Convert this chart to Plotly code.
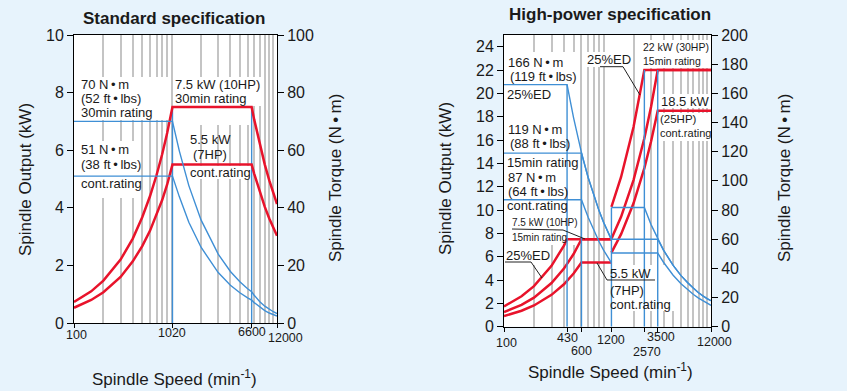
import math
import plotly.graph_objects as go

W, H = 847, 391

# ---------------- data ----------------
# Standard specification
STD_SPEED = [100, 150, 200, 300, 400, 500, 600, 700, 800, 900, 1020, 1200, 1500, 2000,
             3000, 4000, 5000, 6000, 6600, 7000, 8000, 9000, 10000, 11000, 12000]
STD_P_30MIN = [0.73, 1.10, 1.47, 2.20, 2.93, 3.67, 4.40, 5.13, 5.86, 6.60, 7.5, 7.5, 7.5, 7.5,
               7.5, 7.5, 7.5, 7.5, 7.5, 7.07, 6.19, 5.50, 4.95, 4.50, 4.13]
STD_P_CONT = [0.53, 0.80, 1.07, 1.60, 2.14, 2.67, 3.20, 3.74, 4.27, 4.81, 5.5, 5.5, 5.5, 5.5,
              5.5, 5.5, 5.5, 5.5, 5.5, 5.19, 4.54, 4.03, 3.63, 3.30, 3.03]
STD_T_30MIN = [70, 70, 70, 70, 70, 70, 70, 70, 70, 70, 70, 59.7, 47.7, 35.8,
               23.9, 17.9, 14.3, 11.9, 10.85, 9.65, 7.39, 5.84, 4.73, 3.91, 3.28]
STD_T_CONT = [51, 51, 51, 51, 51, 51, 51, 51, 51, 51, 51, 43.8, 35.0, 26.3,
              17.5, 13.1, 10.5, 8.75, 7.96, 7.08, 5.42, 4.28, 3.47, 2.87, 2.41]
STD_CORNER_SPEED = [1020, 6600]
STD_CORNER_TOP_KW = [7.5, 7.5]
STD_XTICKS = [100, 1020, 6600, 12000]

# High-power specification: low-speed winding
HP_LOW_SPEED = [100, 150, 200, 300, 400, 430, 500, 600, 700, 800, 900, 1000, 1200]
HP_LOW_P_ED = [1.74, 2.61, 3.48, 5.22, 6.95, 7.5, 7.5, 7.5, 7.5, 7.5, 7.5, 7.5, 7.5]
HP_LOW_P_15MIN = [1.25, 1.87, 2.49, 3.74, 4.98, 5.36, 6.23, 7.5, 7.5, 7.5, 7.5, 7.5, 7.5]
HP_LOW_P_CONT = [0.91, 1.37, 1.82, 2.73, 3.64, 3.92, 4.56, 5.5, 5.5, 5.5, 5.5, 5.5, 5.5]
HP_LOW_T_ED = [166, 166, 166, 166, 166, 166, 143.2, 119.4, 102.3, 89.5, 79.6, 71.6, 59.7]
HP_LOW_T_15MIN = [119, 119, 119, 119, 119, 119, 119, 119, 102.3, 89.5, 79.6, 71.6, 59.7]
HP_LOW_T_CONT = [87, 87, 87, 87, 87, 87, 87, 87, 75.0, 65.7, 58.4, 52.5, 43.8]

# High-power specification: high-speed winding
HP_HIGH_SPEED = [1200, 1500, 2000, 2570, 3000, 3500, 4000, 5000, 6000, 7000, 8000, 9000,
                 10000, 11000, 12000]
HP_HIGH_P_ED = [10.27, 12.83, 17.11, 22, 22, 22, 22, 22, 22, 22, 22, 22, 22, 22, 22]
HP_HIGH_P_15MIN = [7.54, 9.42, 12.57, 16.15, 18.85, 22, 22, 22, 22, 22, 22, 22, 22, 22, 22]
HP_HIGH_P_CONT = [6.35, 7.93, 10.58, 13.59, 15.87, 18.5, 18.5, 18.5, 18.5, 18.5, 18.5, 18.5,
                  18.5, 18.5, 18.5]
HP_HIGH_T_ED = [81.7, 81.7, 81.7, 81.7, 70.0, 60.0, 52.5, 42.0, 35.0, 30.0, 26.3, 23.3,
                21.0, 19.1, 17.8]
HP_HIGH_T_15MIN = [60, 60, 60, 60, 60, 60, 52.5, 42.0, 35.0, 30.0, 26.3, 23.3,
                   21.0, 19.1, 17.8]
HP_HIGH_T_CONT = [50.5, 50.5, 50.5, 50.5, 50.5, 50.5, 44.2, 35.3, 29.4, 25.2, 22.1, 19.6,
                  17.7, 16.1, 14.6]
HP_CORNER_SPEED = [430, 600, 1200, 2570, 3500]
HP_CORNER_TOP_NM = [166, 119, 81.7, 176, 176]
HP_XTICKS = [100, 430, 600, 1200, 2570, 3500, 12000]

GRID_SPEEDS = [200, 300, 400, 500, 600, 700, 800, 900, 1000,
               2000, 3000, 4000, 5000, 6000, 7000, 8000, 9000, 10000, 11000]
STD_OUT_TICKS = [0, 2, 4, 6, 8, 10]
STD_TRQ_TICKS = [0, 20, 40, 60, 80, 100]
HP_OUT_TICKS = [0, 2, 4, 6, 8, 10, 12, 14, 16, 18, 20, 22, 24]
HP_TRQ_TICKS = [0, 20, 40, 60, 80, 100, 120, 140, 160, 180, 200]

# ---------------- style ----------------
RED = "#E8132B"
BLUE = "#3F8FD5"
GRID = "#C4C4C4"
BG = "#E7F3FC"
FONT = "Liberation Sans, Arial, sans-serif"
TXT = "#1a1a1a"
DOT = "\u2009\u2022\u2009"

L_X0, L_X1, L_YT, L_YB = 74, 277, 35, 323
R_X0, R_X1, R_YT, R_YB = 504, 711, 35, 326.7
LOGMAX = math.log10(12000)


def px(x):
    return x / W


def py(y):
    return 1 - y / H


fig = go.Figure()


def line(xs, ys, xa, ya, color, width):
    fig.add_trace(go.Scatter(x=xs, y=ys, xaxis=xa, yaxis=ya, mode="lines",
                             line=dict(color=color, width=width), hoverinfo="skip"))


# --- standard spec traces ---
for s, top in zip(STD_CORNER_SPEED, STD_CORNER_TOP_KW):
    line([s, s], [0, top], "x", "y", BLUE, 1.4)
line(STD_SPEED, STD_T_30MIN, "x", "y2", BLUE, 1.4)
line(STD_SPEED, STD_T_CONT, "x", "y2", BLUE, 1.4)
line(STD_SPEED, STD_P_30MIN, "x", "y", RED, 2.5)
line(STD_SPEED, STD_P_CONT, "x", "y", RED, 2.5)

# --- high-power spec traces ---
for s, top in zip(HP_CORNER_SPEED, HP_CORNER_TOP_NM):
    line([s, s], [0, top], "x2", "y4", BLUE, 1.4)
for t in (HP_LOW_T_ED, HP_LOW_T_15MIN, HP_LOW_T_CONT):
    line(HP_LOW_SPEED, t, "x2", "y4", BLUE, 1.4)
for t in (HP_HIGH_T_ED, HP_HIGH_T_15MIN, HP_HIGH_T_CONT):
    line(HP_HIGH_SPEED, t, "x2", "y4", BLUE, 1.4)
for p in (HP_LOW_P_ED, HP_LOW_P_15MIN, HP_LOW_P_CONT):
    line(HP_LOW_SPEED, p, "x2", "y3", RED, 2.5)
for p in (HP_HIGH_P_ED, HP_HIGH_P_15MIN, HP_HIGH_P_CONT):
    line(HP_HIGH_SPEED, p, "x2", "y3", RED, 2.5)

# ---------------- axes ----------------
xr = [2, LOGMAX]


def xaxis(dom, anchor, ticks):
    return dict(domain=dom, anchor=anchor, type="log", range=xr, showline=True,
                linecolor="black", linewidth=1, mirror=True, ticks="outside",
                tickvals=ticks, ticklen=4, tickcolor="black", showticklabels=False,
                showgrid=False, zeroline=False, automargin=False,
                minor=dict(tickmode="array", tickvals=GRID_SPEEDS, showgrid=True,
                           gridcolor=GRID, gridwidth=2, ticks=""))


def yaxis(dom, anchor, rng, ticks, side="left", overlaying=None):
    d = dict(anchor=anchor, range=rng, tickvals=ticks, side=side, showline=True,
             linecolor="black", linewidth=1, ticks="outside", ticklen=6,
             tickcolor="black", showgrid=False, zeroline=False, automargin=False,
             tickfont=dict(family=FONT, size=16, color=TXT))
    if overlaying:
        d["overlaying"] = overlaying
    else:
        d["domain"] = dom
    return d


L_XD = [px(L_X0), px(L_X1)]
L_YD = [py(L_YB), py(L_YT)]
R_XD = [px(R_X0), px(R_X1)]
R_YD = [py(R_YB), py(R_YT)]

fig.update_layout(
    width=W, height=H, autosize=False,
    margin=dict(l=0, r=0, t=0, b=0, pad=0, autoexpand=False),
    paper_bgcolor=BG, plot_bgcolor="white", showlegend=False,
    xaxis=xaxis(L_XD, "y", STD_XTICKS),
    yaxis=yaxis(L_YD, "x", [0, 10], STD_OUT_TICKS),
    yaxis2=yaxis(None, "x", [0, 100], STD_TRQ_TICKS, side="right", overlaying="y"),
    xaxis2=xaxis(R_XD, "y3", HP_XTICKS),
    yaxis3=yaxis(R_YD, "x2", [0, 25], HP_OUT_TICKS),
    yaxis4=yaxis(None, "x2", [0, 200], HP_TRQ_TICKS, side="right", overlaying="y3"),
)

# ---------------- leader lines ----------------
LEADERS = [[(600, 66.7), (623, 66.7), (640, 95)],
           [(512, 229), (563, 230), (585, 239)],
           [(505, 262), (531, 262), (542, 278)],
           [(597, 263), (607, 280), (655, 280)]]
for pts in LEADERS:
    path = "M " + " L ".join(f"{px(a):.5f},{py(b):.5f}" for a, b in pts)
    fig.add_shape(type="path", xref="paper", yref="paper", path=path,
                  line=dict(color="#222", width=1), layer="above")

# ---------------- grid breaks behind labels (above grid, below traces) ----------------
L_BOXES = [(76, 170, 77, 120), (76, 141, 141, 198), (173, 263, 77, 106),
           (173, 250, 108, 125), (186, 249, 166, 179)]
R_BOXES = [(505, 577, 52, 245), (505, 548, 245, 265), (585, 629, 52, 67),
           (641, 709, 40, 68), (659, 709, 94, 108), (659, 709, 113, 141),
           (608, 676, 265, 311)]


def add_boxes(boxes, xref, yref, X0, X1, YT, YB, ymax):
    def fx(p):
        return 10 ** (2 + (p - X0) / (X1 - X0) * (LOGMAX - 2))

    def fy(p):
        return (YB - p) / (YB - YT) * ymax

    for (x0, x1, y0, y1) in boxes:
        fig.add_shape(type="rect", xref=xref, yref=yref, layer="between",
                      x0=fx(x0), x1=fx(x1), y0=fy(y1), y1=fy(y0),
                      fillcolor="white", line=dict(width=0))


add_boxes(L_BOXES, "x", "y", L_X0, L_X1, L_YT, L_YB, 10)
add_boxes(R_BOXES, "x2", "y3", R_X0, R_X1, R_YT, R_YB, 25)


# ---------------- text ----------------
def text(t, x, y, size=13, anchor="left", angle=0, bold=False):
    if bold:
        t = f"<b>{t}</b>"
    fig.add_annotation(text=t, x=px(x), y=py(y), xref="paper", yref="paper",
                       xanchor=anchor, yanchor="middle", showarrow=False,
                       textangle=angle, borderpad=0,
                       font=dict(family=FONT, size=size, color=TXT))


LABELS = [
    (f"70 N{DOT}m", 80, 85), (f"(52 ft{DOT}lbs)", 80, 98), ("30min rating", 80, 112),
    (f"51 N{DOT}m", 80, 150), (f"(38 ft{DOT}lbs)", 80, 164), ("cont.rating", 80, 183.5),
    ("7.5 kW (10HP)", 174, 85), ("30min rating", 174, 98.5),
    ("5.5 kW", 189, 140), ("(7HP)", 192, 154), ("cont.rating", 189, 172),
    (f"166 N{DOT}m", 507, 62), (f"(119 ft{DOT}lbs)", 509, 77), ("25%ED", 506, 95),
    (f"119 N{DOT}m", 507, 129), (f"(88 ft{DOT}lbs)", 509, 143), ("15min rating", 506, 162),
    (f"87 N{DOT}m", 507, 177), (f"(64 ft{DOT}lbs)", 507, 191), ("cont.rating", 506, 205),
    ("25%ED", 505, 255), ("25%ED", 586, 60),
    ("18.5 kW", 660, 101),
    ("5.5 kW", 609, 273), ("(7HP)", 609, 290), ("cont.rating", 609, 304),
]
for t, x, y in LABELS:
    text(t, x, y, size=13)

SMALL_LABELS = [
    ("7.5 kW (10HP)", 511, 222, 10), ("15min rating", 511, 237, 10),
    ("22 kW (30HP)", 642, 47, 10.5), ("15min rating", 642, 61, 10.5),
    ("(25HP)", 659, 119, 11.5), ("cont.rating", 659, 133, 11),
]
for t, x, y, s in SMALL_LABELS:
    text(t, x, y, size=s)

# titles
text("Standard specification", 174, 19, size=17, anchor="center", bold=True)
text("High-power specification", 610, 15, size=17, anchor="center", bold=True)

# axis titles
text("Spindle Output (kW)", 26, 180, size=17, anchor="center", angle=-90)
text(f"Spindle Torque (N{DOT}m)", 335, 178, size=17, anchor="center", angle=-90)
text("Spindle Output (kW)", 445, 178, size=17, anchor="center", angle=-90)
text(f"Spindle Torque (N{DOT}m)", 784, 178, size=17, anchor="center", angle=-90)
text("Spindle Speed (min<sup>-1</sup>)", 174, 378, size=17, anchor="center")
text("Spindle Speed (min<sup>-1</sup>)", 610, 371, size=17, anchor="center")

# x tick labels (staggered as in the reference)
STD_XLABEL_Y = [335, 333, 332, 338]
STD_XLABEL_SHIFT = [2, 0, 0, 8]
HP_XLABEL_Y = [343, 338, 351, 340, 352, 337, 342]
HP_XLABEL_SHIFT = [2, 0, 0, 0, 3, 3, 3]
for v, y, sh in zip(STD_XTICKS, STD_XLABEL_Y, STD_XLABEL_SHIFT):
    fig.add_annotation(text=str(v), x=math.log10(v), xref="x", y=py(y), yref="paper",
                       xanchor="center", yanchor="middle", showarrow=False, xshift=sh,
                       font=dict(family=FONT, size=12.5, color=TXT))
for v, y, sh in zip(HP_XTICKS, HP_XLABEL_Y, HP_XLABEL_SHIFT):
    fig.add_annotation(text=str(v), x=math.log10(v), xref="x2", y=py(y), yref="paper",
                       xanchor="center", yanchor="middle", showarrow=False, xshift=sh,
                       font=dict(family=FONT, size=12.5, color=TXT))

fig.write_html("out.html")
